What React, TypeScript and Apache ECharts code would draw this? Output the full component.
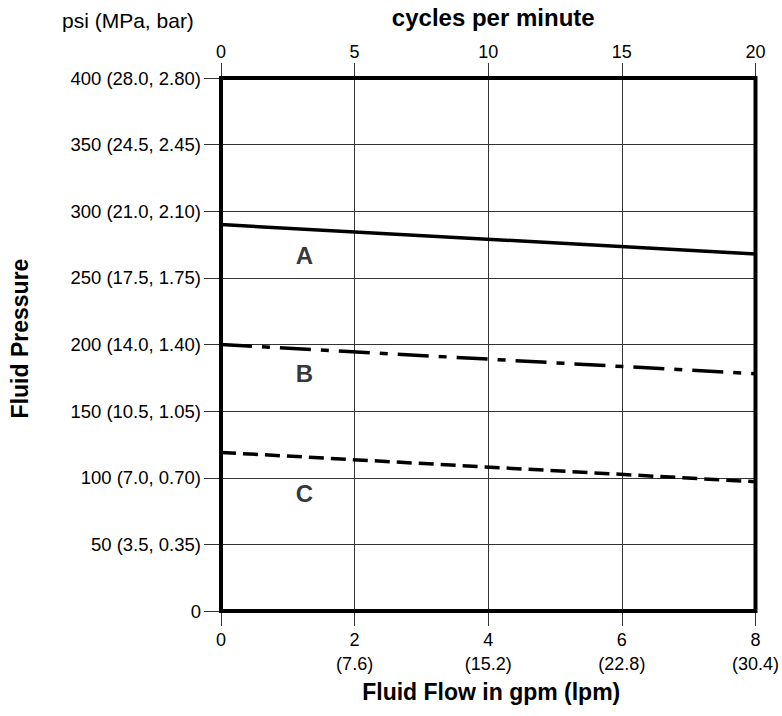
import React, { useEffect, useRef } from "react";
import * as echarts from "echarts";

// Fluid flow (gpm) on the bottom axis, cycles per minute on the top axis
const gpmTicks = [0, 2, 4, 6, 8];
const lpmTicks = ["", "7.6", "15.2", "22.8", "30.4"];
const cycleTicks = [0, 5, 10, 15, 20];

// Pressure axis ticks (psi) with MPa / bar equivalents
const psiTicks = [0, 50, 100, 150, 200, 250, 300, 350, 400];
const pressureTickLabels = [
  "0",
  "50 (3.5, 0.35)",
  "100 (7.0, 0.70)",
  "150 (10.5, 1.05)",
  "200 (14.0, 1.40)",
  "250 (17.5, 1.75)",
  "300 (21.0, 2.10)",
  "350 (24.5, 2.45)",
  "400 (28.0, 2.80)",
];

// Curves: flow (gpm) vs pressure (psi)
const flowPoints = [0, 8];
const curveA = [290, 268];
const curveB = [200, 178];
const curveC = [119, 97];

// Curve labels: [flow, pressure, name]
const curveLabels: [number, number, string][] = [
  [1.25, 267, "A"],
  [1.25, 178, "B"],
  [1.25, 88, "C"],
];

const FONT = "'Liberation Sans', Arial, Helvetica, sans-serif";

export default function App() {
  const ref = useRef<HTMLDivElement>(null);

  useEffect(() => {
    if (!ref.current) return;
    const chart = echarts.init(ref.current, undefined, { renderer: "svg" });
    const toPairs = (ys: number[]) => flowPoints.map((x, i) => [x, ys[i]]);

    chart.setOption({
      animation: false,
      backgroundColor: "#fff",
      textStyle: { fontFamily: FONT },
      grid: {
        left: 220,
        right: 25,
        top: 73,
        bottom: 105,
        show: true,
        borderWidth: 4,
        borderColor: "#000",
        backgroundColor: "transparent",
        z: 10,
      },
      graphic: [
        {
          type: "text",
          left: 62,
          top: 10,
          style: {
            text: "psi (MPa, bar)",
            font: `21px ${FONT}`,
            fill: "#000",
          },
        },
      ],
      xAxis: [
        {
          type: "value",
          position: "bottom",
          min: 0,
          max: 8,
          interval: 2,
          name: "Fluid Flow in gpm (lpm)",
          nameLocation: "middle",
          nameGap: 58,
          nameTextStyle: {
            fontFamily: FONT,
            fontSize: 23,
            fontWeight: "bold",
            color: "#000",
            padding: [0, 0, 0, 6],
          },
          axisLine: { show: false },
          axisTick: { show: true, length: 15, lineStyle: { color: "#333", width: 1 } },
          axisLabel: {
            margin: 17,
            fontSize: 18,
            lineHeight: 24,
            color: "#000",
            fontFamily: FONT,
            formatter: (v: number) => {
              const i = gpmTicks.indexOf(v);
              const sub = i >= 0 ? lpmTicks[i] : "";
              return sub ? `${v}\n(${sub})` : `${v}`;
            },
          },
          splitLine: { show: true, lineStyle: { color: "#333", width: 1 } },
        },
        {
          type: "value",
          position: "top",
          min: cycleTicks[0],
          max: cycleTicks[cycleTicks.length - 1],
          interval: 5,
          name: "cycles per minute",
          nameLocation: "middle",
          nameGap: 49,
          nameTextStyle: {
            fontFamily: FONT,
            fontSize: 24,
            fontWeight: "bold",
            color: "#000",
            padding: [0, 0, 0, 10],
          },
          axisLine: { show: false },
          axisTick: { show: true, length: 15, lineStyle: { color: "#333", width: 1 } },
          axisLabel: { margin: 17, fontSize: 18, color: "#000", fontFamily: FONT },
          splitLine: { show: false },
        },
      ],
      yAxis: [
        {
          type: "value",
          min: psiTicks[0],
          max: psiTicks[psiTicks.length - 1],
          interval: 50,
          name: "Fluid Pressure",
          nameLocation: "middle",
          nameGap: 190,
          nameTextStyle: {
            fontFamily: FONT,
            fontSize: 23,
            fontWeight: "bold",
            color: "#000",
            padding: [0, 0, 0, 12],
          },
          axisLine: { show: false },
          axisTick: { show: true, length: 17, lineStyle: { color: "#333", width: 1 } },
          axisLabel: {
            margin: 20,
            fontSize: 18.5,
            color: "#000",
            fontFamily: FONT,
            formatter: (v: number) => {
              const i = psiTicks.indexOf(v);
              return i >= 0 ? pressureTickLabels[i] : "";
            },
          },
          splitLine: { show: true, lineStyle: { color: "#333", width: 1 } },
        },
      ],
      series: [
        {
          name: "A",
          type: "line",
          data: toPairs(curveA),
          symbol: "none",
          lineStyle: { color: "#000", width: 3.5, type: "solid" },
          z: 5,
        },
        {
          name: "B",
          type: "line",
          data: toPairs(curveB),
          symbol: "none",
          lineStyle: { color: "#000", width: 3.5, type: [31, 10, 8, 10] },
          z: 5,
        },
        {
          name: "C",
          type: "line",
          data: toPairs(curveC),
          symbol: "none",
          lineStyle: { color: "#000", width: 3.5, type: [15, 7] },
          z: 5,
        },
        {
          type: "scatter",
          symbolSize: 0,
          data: curveLabels.map(([x, y, n]) => ({ name: n, value: [x, y] })),
          label: {
            show: true,
            position: "inside",
            formatter: "{b}",
            fontFamily: FONT,
            fontSize: 24,
            fontWeight: "bold",
            color: "#000",
          },
          z: 6,
        },
      ],
    });

    return () => chart.dispose();
  }, []);

  return (
    <div
      ref={ref}
      style={{ position: "absolute", left: 0, top: 0, width: 782, height: 716 }}
    />
  );
}
